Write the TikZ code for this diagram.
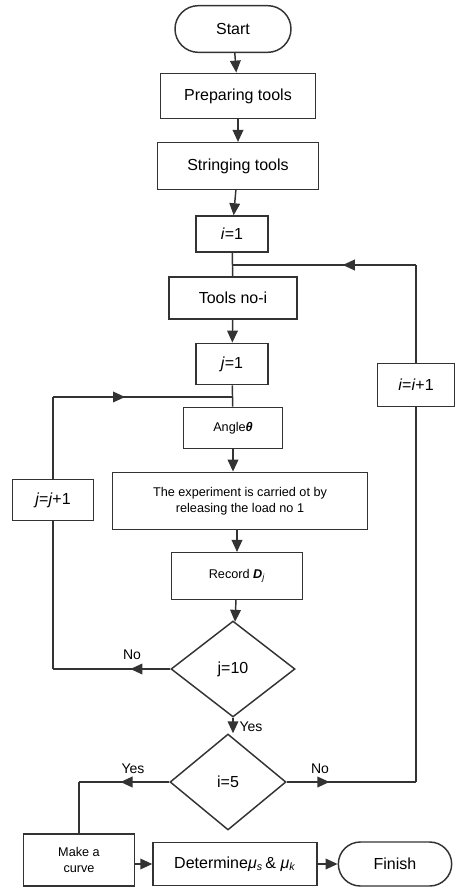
\documentclass[tikz,border=0pt]{standalone}
\usepackage{fontspec}
\setmainfont{Liberation Sans}
\usetikzlibrary{shapes.geometric, shapes.misc, arrows.meta, decorations.markings}

\tikzset{
  flowbox/.style={draw=black!80, line width=1.1pt, rectangle, inner sep=1pt, align=center,
    font=\fontsize{12}{14}\selectfont},
  smalltext/.style={font=\fontsize{9.5}{12}\selectfont},
  termbox/.style={flowbox, rounded rectangle},
  decide/.style={draw=black!80, line width=1.1pt, diamond, inner sep=0pt,
    font=\fontsize{12}{14}\selectfont},
  link/.style={draw=black!80, line width=1.1pt},
  flow/.style={link, -{Triangle[length=9pt,width=8pt]}},
  midarrow/.style={link, postaction={decorate}, decoration={markings,
    mark=at position #1 with {\arrow{Triangle[length=9pt,width=8pt]}}}},
  yesno/.style={font=\fontsize{10.5}{12}\selectfont, inner sep=1pt}
}

\begin{document}
\begin{tikzpicture}[x=0.75pt, y=-0.75pt]
  \useasboundingbox (0,0) rectangle (458,888);

  % main column
  \node[termbox, minimum width=89pt, minimum height=35pt] (start) at (233,29) {Start};
  \node[flowbox, minimum width=116pt, minimum height=34pt] (prep) at (238,96) {Preparing tools};
  \node[flowbox, minimum width=121pt, minimum height=35pt] (string) at (238,166) {Stringing tools};
  \node[flowbox, minimum width=54pt, minimum height=27pt] (iset) at (232,234) {\textit{i}=1};
  \node[flowbox, minimum width=96pt, minimum height=31.5pt] (tool) at (233,298) {Tools no-i};
  \node[flowbox, minimum width=54pt, minimum height=31pt] (jset) at (232,364) {\textit{j}=1};
  \node[flowbox, smalltext, minimum width=74pt, minimum height=31pt] (angle) at (233,428) {Angle\textbf{\textit{θ}}};
  \node[flowbox, smalltext, minimum width=191pt, minimum height=43pt] (exper) at (240,501)
    {The experiment is carried ot by\\releasing the load no 1};
  \node[flowbox, smalltext, minimum width=98pt, minimum height=35pt] (rec) at (237,576)
    {Record \textbf{\textit{D}}\textsubscript{\textit{j}}};
  \node[decide, minimum width=93pt, minimum height=72pt] (jtest) at (233,669) {j=10};
  \node[decide, minimum width=87pt, minimum height=72pt] (itest) at (228,782) {i=5};

  % loops
  \node[flowbox, minimum width=61pt, minimum height=31pt] (jinc) at (53,500) {\textit{j}=\textit{j}+1};
  \node[flowbox, minimum width=58pt, minimum height=32pt] (iinc) at (416,385) {\textit{i}=\textit{i}+1};

  % bottom row
  \node[flowbox, smalltext, minimum width=83pt, minimum height=39pt] (curve) at (79,860) {Make a\\curve};
  \node[flowbox, minimum width=123pt, minimum height=32pt] (det) at (235,864)
    {Determine\textit{μ}\textsubscript{\textit{s}}\,\&~\textit{μ}\textsubscript{\textit{k}}};
  \node[termbox, minimum width=87pt, minimum height=33pt] (fin) at (395,864) {Finish};

  \coordinate (ijoin) at (233,265);
  \coordinate (jjoin) at (233,397);

  \draw[flow] (start) -- (prep);
  \draw[flow] (prep) -- (string);
  \draw[flow] (string) -- (iset);
  \draw[link] (iset) -- (tool);
  \draw[flow] (tool) -- (jset);
  \draw[link] (jset) -- (angle);
  \draw[flow] (angle) -- (exper.north -| angle);
  \draw[flow] (exper.south -| rec) -- (rec);
  \draw[flow] (rec) -- (jtest);
  \draw[flow] (jtest.south) -- (jtest.south |- itest.north);

  % j loop
  \draw[midarrow=0.34] (jtest.west) -- (jtest.west -| jinc.south);
  \draw[link] (jtest.west -| jinc.south) -- (jinc.south);
  \draw[link] (jinc.north) -- (jinc.north |- jjoin);
  \draw[midarrow=0.4] (jinc.north |- jjoin) -- (jjoin);
  \node[yesno, above] (jno) at (132,661) {No};
  \node[yesno, right] (jyes) at (238,727) {Yes};

  % i loop
  \draw[midarrow=0.33] (itest.east) -- (itest.east -| iinc.south);
  \draw[link] (itest.east -| iinc.south) -- (iinc.south);
  \draw[link] (iinc.north) -- (iinc.north |- ijoin);
  \draw[midarrow=0.4] (iinc.north |- ijoin) -- (ijoin);
  \node[yesno, above] (ino) at (320,775) {No};

  % exit
  \draw[midarrow=0.54] (itest.west) -- (itest.west -| curve.north);
  \draw[link] (itest.west -| curve.north) -- (curve.north);
  \node[yesno, above] (iyes) at (133,775) {Yes};
  \draw[flow] (curve.east |- det) -- (det);
  \draw[flow] (det) -- (fin);
\end{tikzpicture}
\end{document}
